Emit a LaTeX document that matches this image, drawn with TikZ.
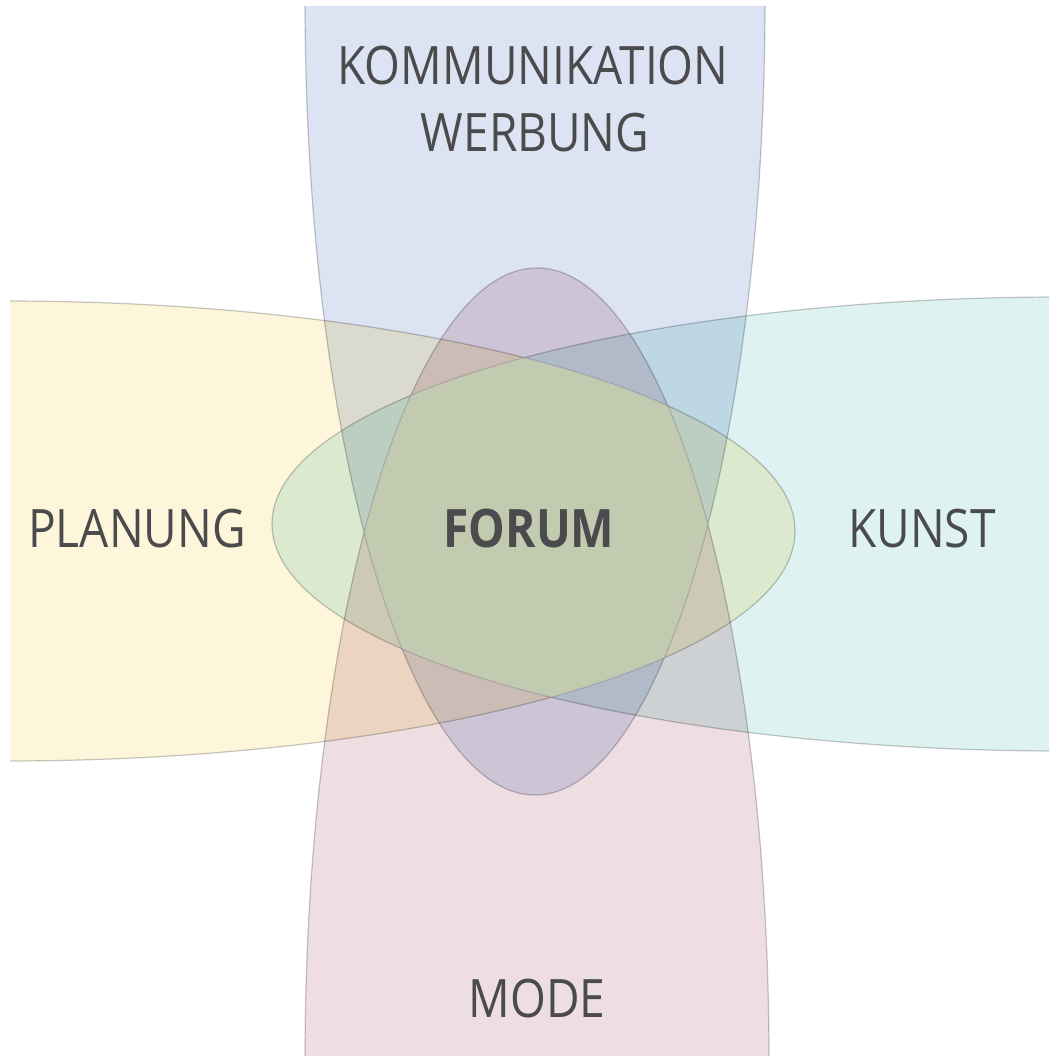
\documentclass[tikz,border=0pt]{standalone}
\usepackage{fontspec}
\setmainfont[FakeStretch=0.87]{Open Sans}
\definecolor{kommblue}{HTML}{DCE3F2}
\definecolor{modepink}{HTML}{EEDDE1}
\definecolor{planyellow}{HTML}{FDF6DA}
\definecolor{kunstcyan}{HTML}{DDF2F1}
\definecolor{forumgreen}{HTML}{C2CBB0}
\definecolor{textgrey}{HTML}{4B4B4D}
\tikzstyle{band} = [draw=black!22, line width=1.2pt]
\tikzstyle{word} = [text=textgrey, font=\fontsize{53}{60}\selectfont, inner sep=0pt, anchor=base]

\begin{document}
\begin{tikzpicture}[x=1pt, y=-1pt]
    \useasboundingbox (0,0) rectangle (1048,1056);

    % the four bands, laid over each other
    \begin{scope}[blend group=multiply]
        \begin{scope}
            \clip (0,7) rectangle (1048,1056);
            \path[band, fill=kommblue] (535,0) ellipse [x radius=230, y radius=795];
        \end{scope}
        \path[band, fill=modepink] (537,1062) ellipse [x radius=232, y radius=794];
        \begin{scope}
            \clip (10,0) rectangle (1048,1056);
            \path[band, fill=planyellow] (5,531) ellipse [x radius=790, y radius=230];
        \end{scope}
        \path[band, fill=kunstcyan] (1062,524) ellipse [x radius=790, y radius=227];
    \end{scope}

    % where all four meet
    \begin{scope}
        \clip (535,0) ellipse [x radius=230, y radius=795];
        \clip (537,1062) ellipse [x radius=232, y radius=794];
        \clip (5,531) ellipse [x radius=790, y radius=230];
        \clip (1062,524) ellipse [x radius=790, y radius=227];
        \fill[forumgreen] (0,0) rectangle (1048,1056);
        \draw[band, draw=black!30] (535,0) ellipse [x radius=230, y radius=795];
        \draw[band, draw=black!30] (537,1062) ellipse [x radius=232, y radius=794];
        \draw[band, draw=black!30] (5,531) ellipse [x radius=790, y radius=230];
        \draw[band, draw=black!30] (1062,524) ellipse [x radius=790, y radius=227];
    \end{scope}

    \node[word] (komm) at (533,85) {KOMMUNIKATION};
    \node[word] (werb) at (535,152) {WERBUNG};
    \node[word] (plan) at (137,547) {PLANUNG};
    \node[word, font=\fontsize{53}{60}\selectfont\bfseries] (forum) at (529,547) {FORUM};
    \node[word] (kunst) at (922,547) {KUNST};
    \node[word] (mode) at (537,1017) {MODE};
\end{tikzpicture}
\end{document}
